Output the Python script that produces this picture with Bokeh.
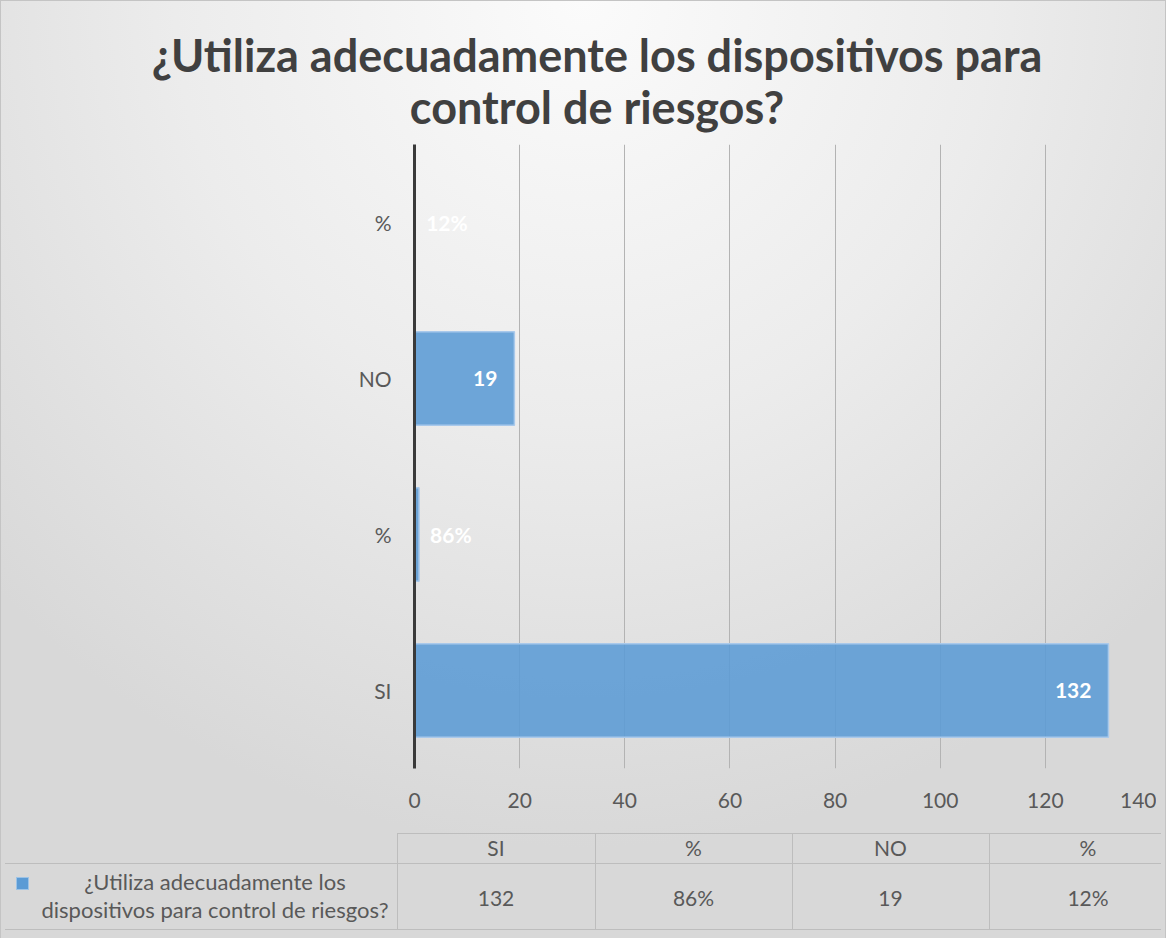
from bokeh.plotting import figure
from bokeh.layouts import column
from bokeh.models import ColumnDataSource, Range1d, FixedTicker, Div
from bokeh.core.properties import value
from bokeh.embed import file_html
from bokeh.resources import INLINE

# ---- data ----
categories = ["SI", "%", "NO", "%"]
values = [132, 0.86, 19, 0.12]
value_labels = ["132", "86%", "19", "12%"]
title_lines = ["¿Utiliza adecuadamente los dispositivos para", "control de riesgos?"]
series_name_lines = ["¿Utiliza adecuadamente los", "dispositivos para control de riesgos?"]
x_ticks = [0, 20, 40, 60, 80, 100, 120, 140]

FONT = "Lato"
BAR = "#5b9bd5"
TXT = "#595959"
W = 1156

ypos = [i + 1 for i in range(len(categories))]

# ---- title ----
title_html = (
    '<div style="position:relative;width:%dpx;height:134px;font-family:Lato;font-weight:bold;'
    'font-size:45px;color:#404040;line-height:52px;">'
    '<div style="position:absolute;left:28px;width:%dpx;top:24px;text-align:center;white-space:nowrap;">'
    '%s</div></div>' % (W, W - 28, "<br>".join(title_lines))
)
title_div = Div(text=title_html, width=W, height=134)

# ---- main bar chart ----
p = figure(width=W, height=666, output_backend="svg", toolbar_location=None,
           x_range=Range1d(0, 140), y_range=Range1d(0.5, 4.5),
           min_border_left=414, min_border_right=6, min_border_top=0,
           min_border_bottom=40)
p.background_fill_color = None
p.border_fill_color = None
p.outline_line_color = None

src = ColumnDataSource(dict(y=ypos, v=values, lab=value_labels))
p.hbar(y="y", right="v", left=0, height=0.6, source=src,
       fill_color=BAR, fill_alpha=0.88, line_color="#a9c9eb", line_width=1.5)

px_per_unit = (1150 - 414) / 140.0
inside = [i for i, v in enumerate(values) if v * px_per_unit > 40]
outside = [i for i, v in enumerate(values) if v * px_per_unit <= 40]
src_in = ColumnDataSource(dict(y=[ypos[i] for i in inside], v=[values[i] for i in inside],
                               lab=[value_labels[i] for i in inside]))
src_out = ColumnDataSource(dict(y=[ypos[i] for i in outside], v=[values[i] for i in outside],
                                lab=[value_labels[i] for i in outside]))
p.text(x="v", y="y", text="lab", source=src_in, text_align="right", text_baseline="middle",
       x_offset=-17, text_color="white", text_font=value(FONT), text_font_style="bold",
       text_font_size="21px")
p.text(x="v", y="y", text="lab", source=src_out, text_align="left", text_baseline="middle",
       x_offset=11, text_color="white", text_font=value(FONT), text_font_style="bold",
       text_font_size="21px")

p.xaxis.ticker = FixedTicker(ticks=x_ticks)
p.xaxis.axis_line_color = None
p.xaxis.major_tick_line_color = None
p.xaxis.minor_tick_line_color = None
p.xaxis.major_label_standoff = 18
p.xaxis.major_label_text_font = FONT
p.xaxis.major_label_text_font_size = "21px"
p.xaxis.major_label_text_color = TXT

p.yaxis.ticker = FixedTicker(ticks=ypos)
p.yaxis.major_label_overrides = {y: c for y, c in zip(ypos, categories)}
p.yaxis.axis_line_color = "#3a3a3a"
p.yaxis.axis_line_width = 3
p.yaxis.major_tick_line_color = None
p.yaxis.minor_tick_line_color = None
p.yaxis.major_label_standoff = 17
p.yaxis.major_label_text_font = FONT
p.yaxis.major_label_text_font_size = "21px"
p.yaxis.major_label_text_color = TXT

p.ygrid.grid_line_color = None
p.xgrid.grid_line_color = "#b3b3b3"
p.xgrid.grid_line_width = 1

# ---- data table (below the chart) ----
col_edges = [392, 590, 787, 984, 1182]
LINE = "#bdbdbd"
parts = ['<div style="position:relative;width:%dpx;height:122px;font-family:Lato;color:%s;'
         'font-size:21px;overflow:hidden;">' % (W, TXT)]
def hline(y, x0, x1):
    return ('<div style="position:absolute;left:%dpx;top:%dpx;width:%dpx;height:0;'
            'border-top:1px solid %s;"></div>' % (x0, y, x1 - x0, LINE))
def vline(x, y0, y1):
    return ('<div style="position:absolute;left:%dpx;top:%dpx;width:0;height:%dpx;'
            'border-left:1px solid %s;"></div>' % (x, y0, y1 - y0, LINE))
def ctext(txt, cx, cy, w, size="21px", lh=26):
    return ('<div style="position:absolute;left:%dpx;top:%dpx;width:%dpx;height:%dpx;'
            'line-height:%dpx;text-align:center;white-space:nowrap;font-size:%s;">%s</div>'
            % (cx - w // 2, cy - lh // 2, w, lh, lh, size, txt))
parts.append(hline(18, col_edges[0], W))
parts.append(hline(48, 0, W))
parts.append(hline(114, 0, W))
for x in col_edges[:4]:
    parts.append(vline(x, 18, 114))
for i, (a, b) in enumerate(zip(col_edges[:-1], col_edges[1:])):
    cx = (a + b) // 2
    parts.append(ctext(categories[i], cx, 33, b - a))
    parts.append(ctext(value_labels[i], cx, 83, b - a))
parts.append(ctext(series_name_lines[0], 210, 67, 420, "22px", 24))
parts.append(ctext(series_name_lines[1], 210, 95, 420, "22px", 24))
parts.append('<div style="position:absolute;left:11px;top:62px;width:13px;height:13px;'
             'background:%s;border:1px solid #9dc3e6;"></div>' % BAR)
parts.append('</div>')
table_div = Div(text="".join(parts), width=W, height=122)

layout = column(title_div, p, table_div, spacing=0)
layout.styles = {
    "background": "radial-gradient(ellipse 70% 90% at 50% 0%, #fbfbfb 0%, #ececec 50%, #d8d8d8 100%)",
    "box-shadow": "inset 0 0 0 1px #c4c4c4",
}

open("out.html", "w").write(file_html(layout, INLINE))
